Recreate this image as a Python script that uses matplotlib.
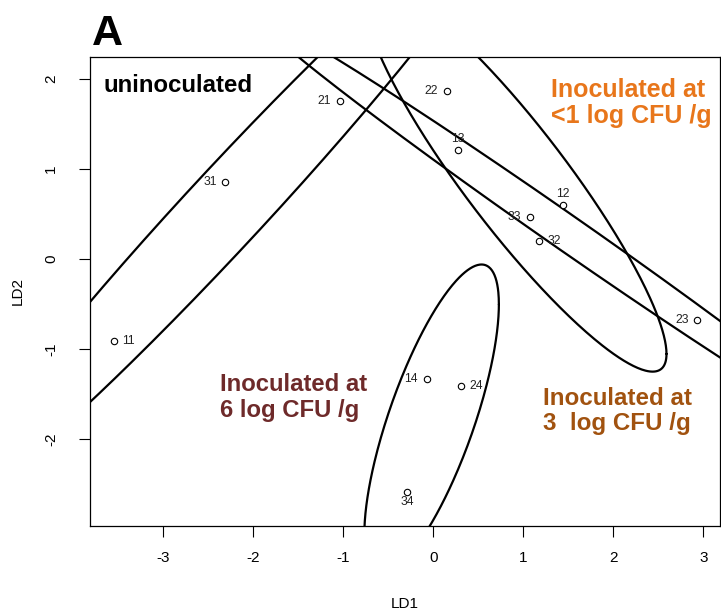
import numpy as np
import matplotlib
matplotlib.use("Agg")
import matplotlib.pyplot as plt

plt.rcParams['font.family'] = ['Liberation Sans', 'DejaVu Sans']

# ---- data (LD scores) ----
labels = ["11", "21", "31", "12", "22", "32", "13", "23", "33", "14", "24", "34"]
ld1 = [-3.552, -1.037, -2.311, 1.444, 0.149, 1.170, 0.271, 2.933, 1.074, -0.074, 0.311, -0.292]
ld2 = [-0.908, 1.756, 0.859, 0.597, 1.870, 0.197, 1.211, -0.681, 0.467, -1.337, -1.411, -2.589]
groups = ["1", "1", "1", "2", "2", "2", "3", "3", "3", "4", "4", "4"]
label_pos = ["right", "left", "left", "above", "left", "right", "above", "left", "left", "left", "right", "below"]

group_text = ["uninoculated", "Inoculated at\n<1 log CFU /g", "Inoculated at\n3  log CFU /g", "Inoculated at\n6 log CFU /g"]
group_color = ["#000000", "#E8761B", "#A1520F", "#6E2A2A"]
# anchor = baseline of the last text line
text_xy = [(-3.665, 1.859), (1.312, 1.508), (1.223, -1.900), (-2.366, -1.752)]
text_size = [17.3, 18.0, 17.4, 17.2]

xticks = [-3, -2, -1, 0, 1, 2, 3]
yticks = [-2, -1, 0, 1, 2]
xlim = (-3.814, 3.186)
ylim = (-2.963, 2.247)

chi_r = np.sqrt(5.991464547)  # 95% normal ellipse radius

W, H = 721, 614
fig = plt.figure(figsize=(W / 100, H / 100), dpi=100)
L, R, T, B = 90, 720, 57, 525.7
ax = fig.add_axes([L / W, (H - B) / H, (R - L) / W, (B - T) / H])

x = np.array(ld1)
y = np.array(ld2)
g = np.array(groups)

# ellipses
t = np.linspace(0, 2 * np.pi, 400)
for grp in ["1", "2", "3", "4"]:
    m = g == grp
    pts = np.vstack([x[m], y[m]])
    mu = pts.mean(axis=1)
    cov = np.cov(pts)
    Lc = np.linalg.cholesky(cov)
    circ = np.vstack([np.cos(t), np.sin(t)])
    ell = mu[:, None] + chi_r * Lc @ circ
    ax.plot(ell[0], ell[1], color="black", lw=1.6, solid_capstyle="round")

# points
ax.plot(x, y, linestyle="none", marker="o", markersize=4.6, mfc="white", mec="black", mew=0.8)

offs = {"left": ((-6.2, 0), "right", "center"),
        "right": ((6.2, 0), "left", "center"),
        "above": ((0, 8.2), "center", "center"),
        "below": ((0, -7.2), "center", "center")}
for lab, xi, yi, p in zip(labels, ld1, ld2, label_pos):
    o, ha, va = offs[p]
    ax.annotate(lab, (xi, yi), xytext=o, textcoords="offset points", ha=ha, va=va,
                fontsize=8.7, color="#222222")

for txt, col, (tx, ty), fs in zip(group_text, group_color, text_xy, text_size):
    ax.text(tx, ty, txt, color=col, fontsize=fs, fontweight="bold", ha="left", va="baseline",
            linespacing=1.13)

ax.set_xlim(*xlim)
ax.set_ylim(*ylim)
ax.set_xticks(xticks)
ax.set_yticks(yticks)
ax.set_xticklabels([str(v) for v in xticks])
ax.set_yticklabels([str(v) for v in yticks], rotation=90, va="center")
ax.tick_params(axis="both", direction="out", length=8, width=0.8, labelsize=11)
ax.tick_params(axis="x", pad=10)
ax.tick_params(axis="y", pad=15)
for s in ax.spines.values():
    s.set_linewidth(0.9)

ax.set_xlabel("LD1", fontsize=11)
ax.set_ylabel("LD2", fontsize=11)
ax.xaxis.set_label_coords(0.5, -0.168)
ax.xaxis.label.set_va("center")
ax.yaxis.set_label_coords(-0.114, 0.5)
ax.yaxis.label.set_va("center")

fig.text(92 / W, (H - 45) / H, "A", fontsize=31, fontweight="bold", ha="left", va="baseline")

fig.savefig("out.png", dpi=100)
